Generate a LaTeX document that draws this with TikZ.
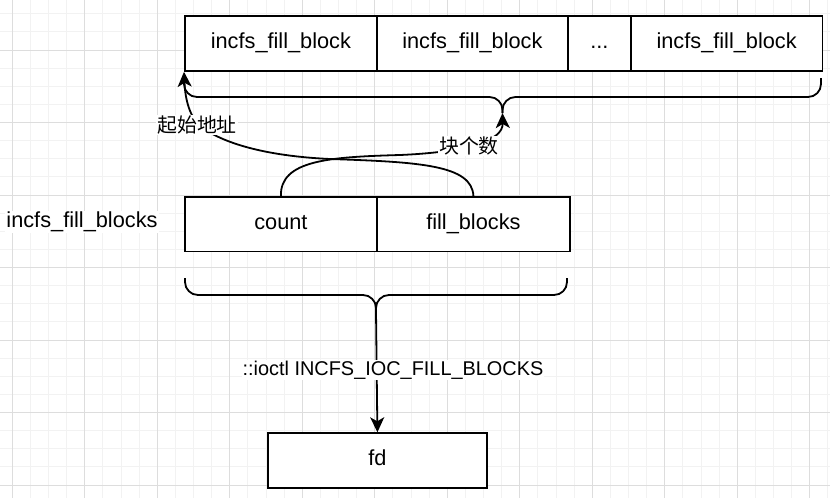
\documentclass[tikz,border=0pt]{standalone}
\usepackage{fontspec}
\setmainfont{Liberation Sans}
\newfontfamily\cjk{Noto Sans CJK SC}
\usetikzlibrary{arrows.meta}
\definecolor{gmin}{HTML}{F2F2F2}
\definecolor{gmaj}{HTML}{DDDDDD}
\begin{document}
\begin{tikzpicture}[x=1pt,y=-1pt,
  gminor/.style={draw=gmin,line width=1pt},
  gmajor/.style={draw=gmaj,line width=1pt},
  box/.style={draw=black,line width=1.8pt,fill=white,inner sep=0pt,anchor=north west,
    text height=15.7pt,text depth=4.6pt,
    font=\fontsize{21.75}{26}\selectfont},
  txt/.style={inner sep=1pt,fill=white,font=\fontsize{21.75}{26}\selectfont},
  elab/.style={inner sep=1pt,fill=white,font=\fontsize{19.9}{24}\selectfont},
  cjklab/.style={inner sep=1pt,fill=white,font=\cjk\fontsize{19.9}{24}\selectfont},
  brace/.style={draw=black,line width=1.8pt,rounded corners=13pt},
  arr/.style={draw=black,line width=1.8pt,-{Stealth[length=15pt,width=14pt,inset=4pt]}}
]
\useasboundingbox (0,0) rectangle (830,498);
\fill[white] (0,0) rectangle (830,498);
% grid
\foreach \i in {0,...,45} \draw[gminor] ({12.3+18.125*\i},0) -- ({12.3+18.125*\i},498);
\foreach \j in {0,...,26} \draw[gminor] (0,{13.75+18.125*\j}) -- (830,{13.75+18.125*\j});
\foreach \i in {0,...,11} \draw[gmajor] ({12.3+72.5*\i},0) -- ({12.3+72.5*\i},498);
\foreach \j in {0,...,6} \draw[gmajor] (0,{50+72.5*\j}) -- (830,{50+72.5*\j});

% top row
\node[box,minimum width=192pt,minimum height=55pt] (b1) at (184,15) {incfs\_fill\_block};
\node[box,minimum width=191pt,minimum height=55pt] (b2) at (376,15) {incfs\_fill\_block};
\node[box,minimum width=63pt,minimum height=55pt] (b3) at (567,15) {...};
\node[box,minimum width=191.5pt,minimum height=55pt] (b4) at (630,15) {incfs\_fill\_block};

% middle row
\node[box,minimum width=192pt,minimum height=54.5pt] (count) at (184,196) {count};
\node[box,minimum width=193pt,minimum height=54.5pt] (fillb) at (376,196) {fill\_blocks};
\node[txt] (name) at (82,221.7) {incfs\_fill\_blocks};

% fd
\node[box,minimum width=218.4pt,minimum height=54.4pt] (fd) at (267.3,432.3) {fd};

% braces
\coordinate (tc) at (502.5,113);
\coordinate (bc) at (376,311);
\draw[brace] (184,78) -- (184,97) -- (502.5,97) -- (tc);
\draw[brace] (821,78) -- (821,97) -- (502.5,97) -- (tc);
\draw[brace] (185,278) -- (185,295) -- (376,295) -- (bc);
\draw[brace] (567,278) -- (567,295) -- (376,295) -- (bc);

% connectors
\draw[arr] (bc) -- (fd.north);
\node[elab] (ioctl) at (393,370) {::ioctl INCFS\_IOC\_FILL\_BLOCKS};

\draw[arr] (count.north) .. controls (280,160) and (330,157) .. (400,155)
  .. controls (470,152) and (503,140) .. (tc);
\draw[arr] (fillb.north) .. controls (472,165) and (420,162) .. (330,159)
  .. controls (265,156) and (222,143) .. (200,126)
  .. controls (188,115) and (185,95) .. (b1.south west);
\node[cjklab] (lcount) at (469,146) {块个数};
\node[cjklab] (laddr) at (197,125) {起始地址};
\end{tikzpicture}
\end{document}
